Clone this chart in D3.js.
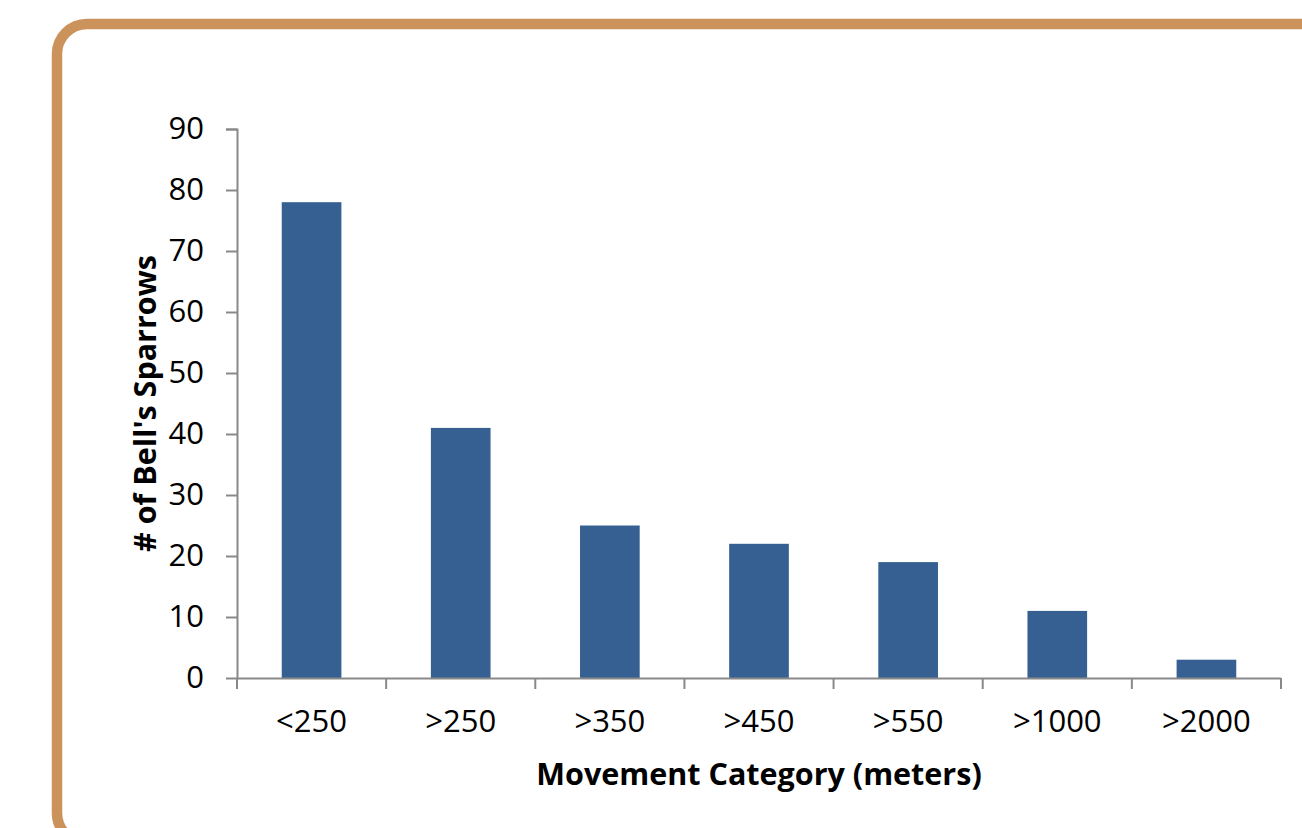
<!DOCTYPE html>
<html>
<head>
<meta charset="utf-8">
<script src="https://cdn.jsdelivr.net/npm/d3@7"></script>
<style>
  body { margin: 0; background: #fff; }
  text { font-family: "Open Sans", sans-serif; fill: #000; }
</style>
</head>
<body>
<div id="chart"></div>
<script>
var categories = ["<250", ">250", ">350", ">450", ">550", ">1000", ">2000"];
var counts = [78, 41, 25, 22, 19, 11, 3];
var yTicks = [0, 10, 20, 30, 40, 50, 60, 70, 80, 90];

var svgWidth = 1302;
var svgHeight = 828;

var margin = {top: 129, right: 21, bottom: 150, left: 237};
var width = svgWidth - margin.left - margin.right;
var height = svgHeight - margin.top - margin.bottom;

var svg = d3.select("#chart")
  .append("svg")
  .attr("width", svgWidth)
  .attr("height", svgHeight);

// frame around the chart (runs off the right and bottom edges)
svg.append("rect")
  .attr("x", 57)
  .attr("y", 24)
  .attr("width", 1320)
  .attr("height", 819)
  .attr("rx", 30)
  .attr("fill", "none")
  .attr("stroke", "#CB935B")
  .attr("stroke-width", 10.5);

var chartGroup = svg.append("g")
  .attr("transform", `translate(${margin.left}, ${margin.top})`);

var xScale = d3.scaleBand()
  .domain(categories)
  .range([0, width])
  .paddingInner(0.6)
  .paddingOuter(0.3);

var yScale = d3.scaleLinear()
  .domain([0, 90])
  .range([height, 0]);

// bars
chartGroup.selectAll("rect.bar")
  .data(counts)
  .enter()
  .append("rect")
  .attr("class", "bar")
  .attr("x", (d, i) => xScale(categories[i]))
  .attr("y", d => yScale(d))
  .attr("width", xScale.bandwidth())
  .attr("height", d => height - yScale(d))
  .attr("fill", "#366092");

// y axis
var leftAxis = d3.axisLeft(yScale)
  .tickValues(yTicks)
  .tickSize(11)
  .tickPadding(22);

var yAxisG = chartGroup.append("g").call(leftAxis);

// x axis: ticks at category boundaries
var step = xScale.step();
var bottomAxis = d3.axisBottom(xScale)
  .tickSize(0)
  .tickPadding(32);

var xAxisG = chartGroup.append("g")
  .attr("transform", `translate(0, ${height})`)
  .call(bottomAxis);

xAxisG.selectAll(".boundary")
  .data(d3.range(categories.length + 1))
  .enter()
  .append("line")
  .attr("class", "boundary")
  .attr("x1", i => i * step)
  .attr("x2", i => i * step)
  .attr("y1", 0)
  .attr("y2", 11);

[yAxisG, xAxisG].forEach(function(g) {
  g.select(".domain").attr("stroke", "#898989").attr("stroke-width", 2);
  g.selectAll("line").attr("stroke", "#898989").attr("stroke-width", 2);
  g.selectAll("text")
    .attr("font-family", "'Open Sans', sans-serif")
    .attr("font-size", "31px")
    .attr("fill", "#000");
});
yAxisG.select(".domain").attr("d", `M-11,0.5H0.5V${height}`);
xAxisG.select(".domain").attr("d", `M0,0.5H${width}`);

// axis labels
chartGroup.append("text")
  .attr("transform", "rotate(-90)")
  .attr("x", -(yScale(45) + 0))
  .attr("y", 156 - margin.left)
  .attr("text-anchor", "middle")
  .style("font-weight", "bold")
  .style("font-size", "30.5px")
  .text("# of Bell's Sparrows");

chartGroup.append("text")
  .attr("x", width / 2)
  .attr("y", 785 - margin.top)
  .attr("text-anchor", "middle")
  .style("font-weight", "bold")
  .style("font-size", "30.5px")
  .text("Movement Category (meters)");
</script>
</body>
</html>
